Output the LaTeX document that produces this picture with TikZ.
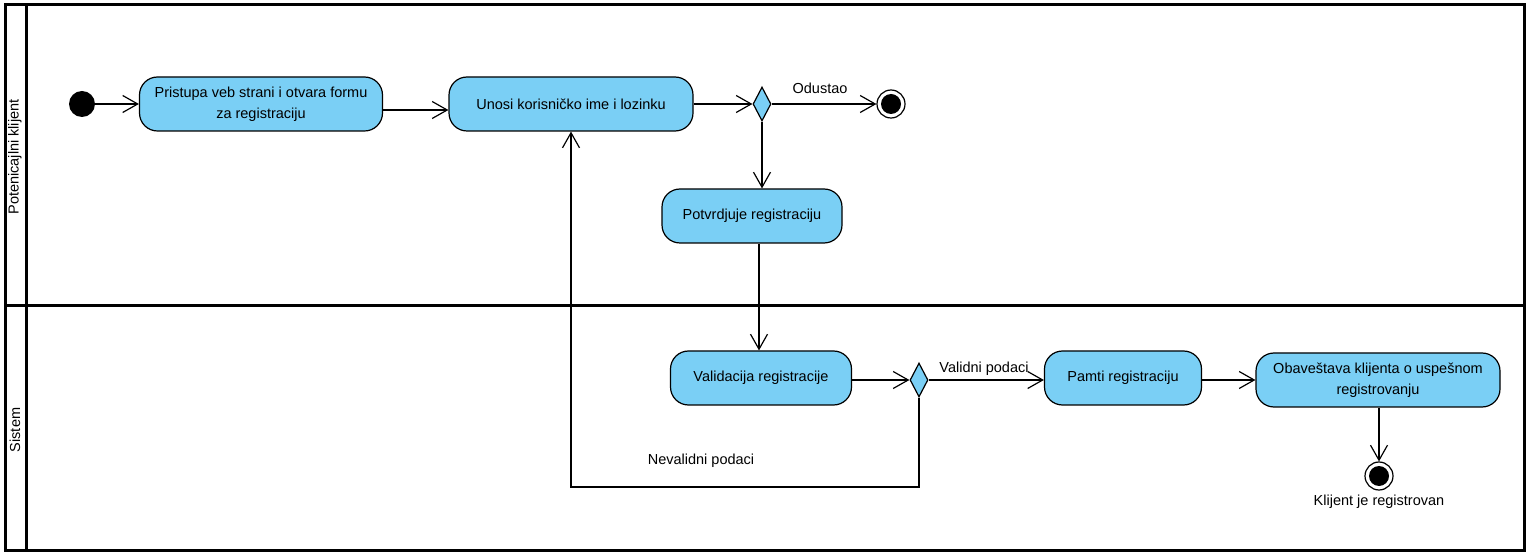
\documentclass[tikz,border=0pt]{standalone}
\usepackage{fontspec}
\setmainfont{Liberation Sans}
\usepackage[svgnames]{xcolor}
\usepackage{tikz}
\usetikzlibrary{shapes.geometric,arrows.meta}
\definecolor{ActBlue}{RGB}{122,207,245}

\begin{document}
\begin{tikzpicture}[x=1pt,y=-1pt]
\tikzset{
act/.style={ rectangle , rounded corners=18pt ,
minimum height=54pt , inner sep=4pt , align=center ,
draw=black , line width=1.2pt , fill=ActBlue },
choice/.style={ diamond , minimum width=18pt , minimum height=34pt ,
inner sep=0pt , draw=black , line width=1.2pt , fill=ActBlue },
startdot/.style={ circle , fill=black , minimum size=26pt , inner sep=0pt },
enddot/.style={ circle , draw=black , line width=1.2pt , fill=white ,
minimum size=28pt , inner sep=0pt ,
path picture={\fill[black] (path picture bounding box.center) circle (10pt);} },
flow/.style={ line width=1.2pt , -{Straight Barb[length=15pt,width=17pt]} },
every node/.style={ font=\fontsize{14.5}{21}\selectfont }
}
\useasboundingbox (0,0) rectangle (1527,553);

\draw[line width=3pt] (5,5) rectangle (1524,550);
\draw[line width=3pt] (26,5) -- (26,550);
\draw[line width=3pt] (5,306) -- (1524,306);
\node[rotate=90] (lane1) at (15,157) {Potenicajlni klijent};
\node[rotate=90] (lane2) at (15,430) {Sistem};

\node[startdot] (start) at (82,104) {};
\node[act, minimum width=243pt] (pristup) at (261,104) {Pristupa veb strani i otvara formu\\za registraciju};
\node[act, minimum width=244pt] (unos) at (571,104) {Unosi korisničko ime i lozinku};
\node[choice] (odluka1) at (762,104) {};
\node[enddot] (kraj1) at (891,104) {};
\node[act, minimum width=180pt] (potvrda) at (752,216) {Potvrdjuje registraciju};
\node[act, minimum width=181pt] (validacija) at (761,378) {Validacija registracije};
\node[choice] (odluka2) at (919,380) {};
\node[act, minimum width=157pt] (pamti) at (1123,378) {Pamti registraciju};
\node[act, minimum width=244pt] (obavestava) at (1378,380) {Obaveštava klijenta o uspešnom\\registrovanju};
\node[enddot] (kraj2) at (1379,476) {};

\node (odustao) at (820,88) {Odustao};
\node (validni) at (984,369) {Validni podaci};
\node (nevalidni) at (701,461) {Nevalidni podaci};
\node (registrovan) at (1379,502) {Klijent je registrovan};

\draw[flow] (start) -- (pristup.west);
\draw[flow] ([yshift=-6pt]pristup.east) -- ([yshift=-6pt]unos.west);
\draw[flow] (unos) -- (odluka1.west);
\draw[flow] (odluka1.east) -- (kraj1.west);
\draw[flow] (odluka1.south) -- (odluka1.south |- potvrda.north);
\draw[flow] ([xshift=7pt]potvrda.south) -- ([xshift=-2pt]validacija.north);
\draw[flow] (validacija.east |- odluka2) -- (odluka2.west);
\draw[flow] (odluka2.east) -- (odluka2.east -| pamti.west);
\draw[flow] (pamti.east |- obavestava) -- (obavestava.west);
\draw[flow] (obavestava.south -| kraj2) -- (kraj2.north);
\draw[flow] (odluka2.south) -- (odluka2.south |- 0,487) -| (unos.south);

\end{tikzpicture}
\end{document}
